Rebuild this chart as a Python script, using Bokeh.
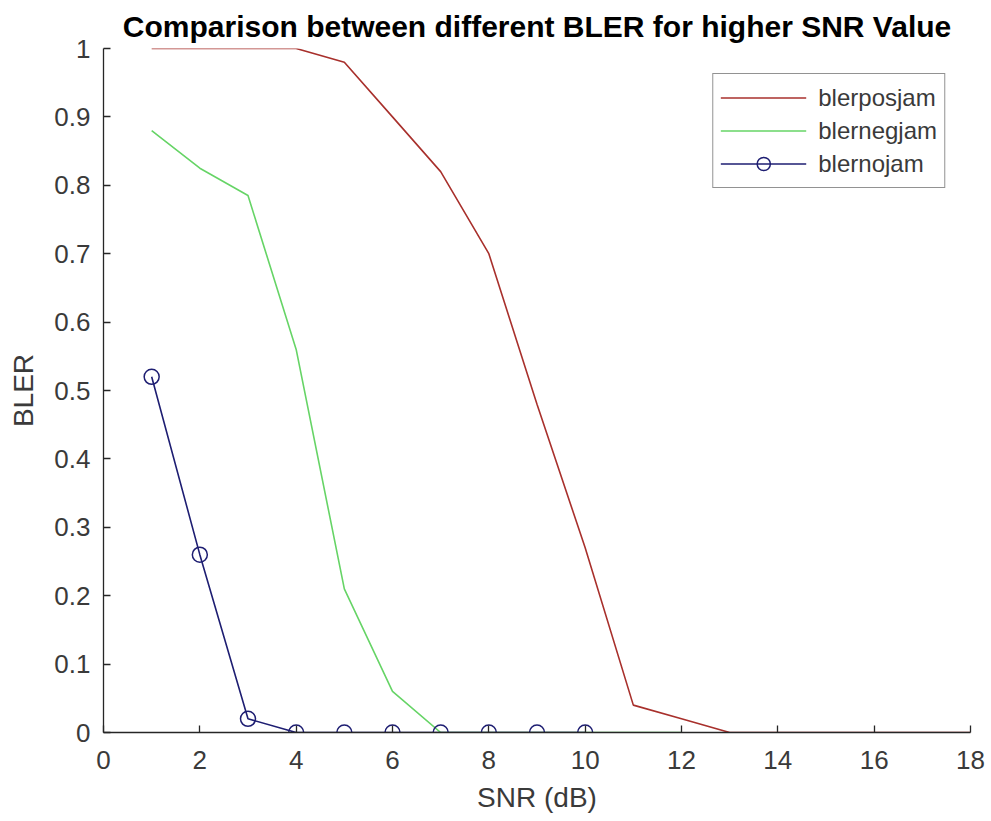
from bokeh.plotting import figure
from bokeh.models import FixedTicker, Range1d, Legend, LegendItem
from bokeh.embed import file_html
from bokeh.resources import INLINE

# ---- data ----
snr_pos = [1, 2, 3, 4, 5, 6, 7, 8, 9, 10, 11, 12, 13, 14, 15, 16, 17, 18]
bler_pos = [1, 1, 1, 1, 0.98, 0.90, 0.82, 0.70, 0.48, 0.27, 0.04, 0.02, 0, 0, 0, 0, 0, 0]
snr_neg = [1, 2, 3, 4, 5, 6, 7, 8, 9, 10, 11, 12]
bler_neg = [0.88, 0.825, 0.785, 0.56, 0.21, 0.06, 0, 0, 0, 0, 0, 0]
snr_no = [1, 2, 3, 4, 5, 6, 7, 8, 9, 10]
bler_no = [0.52, 0.26, 0.02, 0, 0, 0, 0, 0, 0, 0]
series_names = ["blerposjam", "blernegjam", "blernojam"]
x_ticks = [0, 2, 4, 6, 8, 10, 12, 14, 16, 18]
y_ticks = [0, 0.1, 0.2, 0.3, 0.4, 0.5, 0.6, 0.7, 0.8, 0.9, 1]
y_tick_labels = ["0", "0.1", "0.2", "0.3", "0.4", "0.5", "0.6", "0.7", "0.8", "0.9", "1"]

FONT = "Liberation Sans"
AX = "#262626"
TXT = "#3a3a3a"

p = figure(width=991, height=821, output_backend="svg", toolbar_location=None,
           x_range=Range1d(0, 18), y_range=Range1d(0, 1),
           min_border_left=103, min_border_right=21, min_border_top=48, min_border_bottom=89,
           title="Comparison between different BLER for higher SNR Value")
p.outline_line_color = None
p.grid.visible = False
p.background_fill_color = "white"
p.border_fill_color = "white"

p.title.text_font = FONT
p.title.text_font_size = "30px"
p.title.text_font_style = "bold"
p.title.text_color = "black"
p.title.align = "center"
p.title.standoff = 12

for ax in (p.xaxis[0], p.yaxis[0]):
    ax.axis_line_color = AX
    ax.axis_line_width = 1.3
    ax.major_tick_line_color = AX
    ax.major_tick_line_width = 1.3
    ax.major_tick_in = 7
    ax.major_tick_out = 0
    ax.minor_tick_line_color = None
    ax.major_label_text_font = FONT
    ax.major_label_text_font_size = "26px"
    ax.major_label_text_color = TXT
    ax.axis_label_text_font = FONT
    ax.axis_label_text_font_size = "28px"
    ax.axis_label_text_font_style = "normal"
    ax.axis_label_text_color = TXT

p.xaxis.ticker = FixedTicker(ticks=x_ticks)
p.yaxis.ticker = FixedTicker(ticks=y_ticks)
p.yaxis.major_label_overrides = {t: l for t, l in zip(y_ticks, y_tick_labels)}
p.xaxis.axis_label = "SNR (dB)"
p.yaxis.axis_label = "BLER"
p.xaxis.major_label_standoff = 18
p.yaxis.major_label_standoff = 13
p.xaxis.axis_label_standoff = 10
p.yaxis.axis_label_standoff = 12

r_pos = p.line(snr_pos, bler_pos, line_color="#a8302c", line_width=1.6)
r_neg = p.line(snr_neg, bler_neg, line_color="#66d466", line_width=1.6)
r_no = p.line(snr_no, bler_no, line_color="#1e1e72", line_width=1.6)
r_no_m = p.scatter(snr_no, bler_no, marker="circle", size=15, fill_color=None,
                   line_color="#1e1e72", line_width=1.5)

legend = Legend(items=[
    LegendItem(label=series_names[0], renderers=[r_pos]),
    LegendItem(label=series_names[1], renderers=[r_neg]),
    LegendItem(label=series_names[2], renderers=[r_no, r_no_m]),
], location="top_right")
legend.margin = 25
legend.padding = 7
legend.spacing = 0
legend.glyph_width = 86
legend.glyph_height = 33
legend.label_height = 33
legend.label_standoff = 12
legend.label_text_font = FONT
legend.label_text_font_size = "24px"
legend.label_text_color = TXT
legend.border_line_color = AX
legend.border_line_width = 1.3
legend.background_fill_color = "white"
legend.background_fill_alpha = 1
p.add_layout(legend)

open("out.html", "w").write(file_html(p, INLINE))
